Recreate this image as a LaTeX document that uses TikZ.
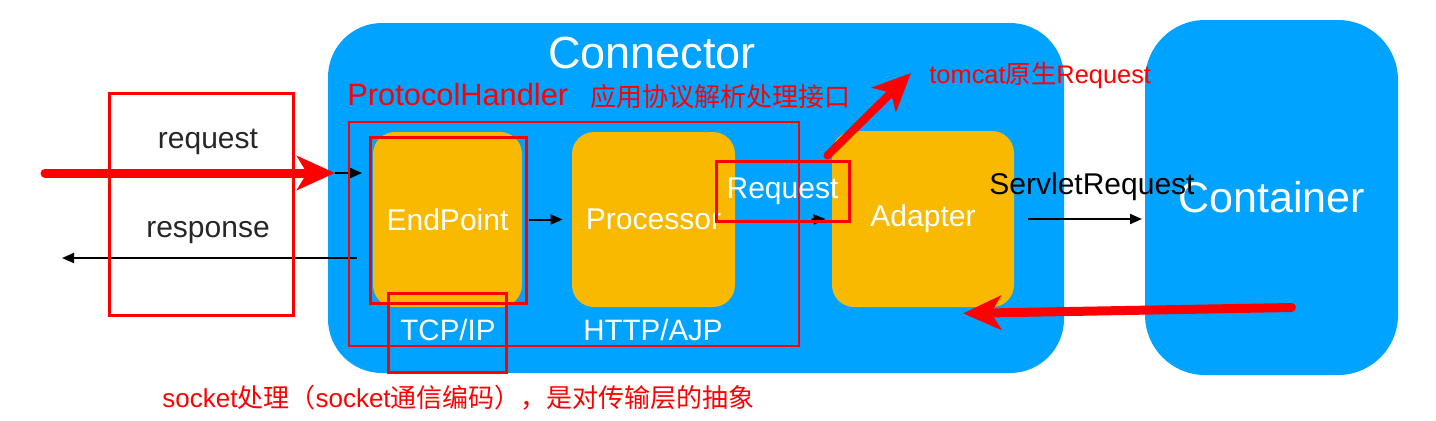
\documentclass[tikz,border=0pt]{standalone}
\usepackage{fontspec}
\setmainfont{Liberation Sans}
\newfontfamily\cjk{Noto Sans CJK SC}
\usetikzlibrary{arrows.meta}
\definecolor{conblue}{RGB}{0,163,255}
\definecolor{boxorange}{RGB}{248,185,0}
\definecolor{markred}{RGB}{255,0,0}
\newcommand{\pxfont}[1]{\fontsize{#1}{#1}\selectfont}

\begin{document}
\begin{tikzpicture}[x=0.5pt, y=-0.5pt,
  block/.style={fill=conblue, rounded corners=27pt, inner sep=0},
  part/.style={fill=boxorange, rounded corners=11pt, inner sep=0, text=white, font=\pxfont{15}},
  markbox/.style={draw=markred, line width=1.5pt, inner sep=0},
  flow/.style={-{Triangle[length=6pt,width=5pt]}, line width=1pt},
  hint/.style={-{Stealth[length=19pt,width=17pt,inset=5pt]}, draw=markred, line width=4.5pt, line cap=round},
  lbl/.style={inner sep=0},
  note/.style={inner sep=0, text=markred, anchor=west}]
  \useasboundingbox (0,0) rectangle (1436,420);

  % blue blocks
  \node[block, minimum width=368pt, minimum height=175pt] (conn) at (696,198) {};
  \node[block, rounded corners=30pt, minimum width=126.5pt, minimum height=177.5pt,
        text=white, font=\pxfont{21.5}] (cont) at (1271.5,197.5) {Container};
  \node[lbl, text=white, font=\pxfont{22.5}] (connlbl) at (652,53) {Connector};

  % orange parts
  \node[part, minimum width=74.5pt, minimum height=87.5pt] (endp) at (447.5,219.5) {EndPoint};
  \node[part, minimum width=81.5pt, minimum height=87.5pt] (proc) at (653.5,219.5) {Processor};
  \node[part, minimum width=91pt, minimum height=88pt] (adap) at (923,219) {Adapter};
  \node[lbl, text=white, font=\pxfont{14.75}] (tcp) at (448,330) {TCP/IP};
  \node[lbl, text=white, font=\pxfont{14.75}] (http) at (653,330) {HTTP/AJP};

  % black labels
  \node[lbl, text=black!85, font=\pxfont{15}] (reqlbl) at (208,142) {request};
  \node[lbl, text=black!85, font=\pxfont{15}] (resplbl) at (208,233) {response};
  \node[lbl, font=\pxfont{15}] (srlbl) at (1092,187) {ServletRequest};

  % black flow
  \coordinate (reqsrc) at (45,173);
  \coordinate (reqdst) at (335,173);
  \coordinate (epin) at (362,173);
  \coordinate (respsrc) at (357,258);
  \coordinate (respdst) at (62,258);
  \coordinate (srdst) at (1142,219);
  \draw[flow] (reqdst) -- (epin);
  \draw[flow] (respsrc) -- (respdst);
  \draw[flow] ([xshift=3.5pt]endp.east) -- ([xshift=-4.5pt]proc.west);
  \draw[flow] ([xshift=38pt]proc.east) -- ([xshift=-3pt]adap.west);
  \draw[flow] ([xshift=7pt]adap.east) -- (srdst);

  % red marks
  \node[markbox, minimum width=92pt, minimum height=111pt] (iobox) at (201,204) {};
  \node[markbox, line width=1.2pt, minimum width=225pt, minimum height=112pt] (phbox) at (574,234) {};
  \node[markbox, minimum width=78pt, minimum height=83pt] (epbox) at (448,220) {};
  \node[markbox, minimum width=59pt, minimum height=39.5pt] (tcpbox) at (447,332.5) {};
  \node[markbox, minimum width=66.5pt, minimum height=30pt, text=white, font=\pxfont{15}] (reqbox) at (782.5,191) {Request};

  \node[note, font=\pxfont{15.4}] (phlbl) at (347,94) {ProtocolHandler};
  \node[note, font=\cjk\pxfont{13}] (phnote) at (590,97) {应用协议解析处理接口};
  \node[note, font=\pxfont{12.7}] (tomlbl) at (929,75) {tomcat{\cjk 原生}Request};
  \node[note, font=\pxfont{13}] (socklbl) at (162,398) {socket{\cjk 处理（}socket{\cjk 通信编码），是对传输层的抽象}};

  \draw[hint] (reqsrc) -- (reqdst);
  \draw[hint, line width=4pt] ([xshift=-11.5pt,yshift=2pt]reqbox.north east) -- ([xshift=-9pt,yshift=1pt]tomlbl.west);
  \draw[hint] ([xshift=10pt,yshift=-55pt]cont.center) -- ([xshift=20pt,yshift=-3pt]adap.south);
\end{tikzpicture}
\end{document}
